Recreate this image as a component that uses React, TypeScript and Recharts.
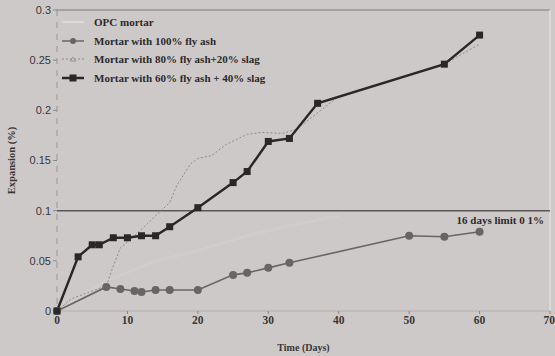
import React from 'react';
import {
  LineChart, Line, XAxis, YAxis, ReferenceLine,
} from 'recharts';

// days / expansion (%)
const ashDays = [0, 7, 9, 11, 12, 14, 16, 20, 25, 27, 30, 33, 50, 55, 60];
const ashVals = [0, 0.024, 0.022, 0.02, 0.019, 0.021, 0.021, 0.021, 0.036, 0.038, 0.043, 0.048, 0.075, 0.074, 0.079];

const slag20Days = [0, 2, 5, 7, 8, 9, 11, 13, 14, 16, 17, 19, 20, 22, 24, 27, 29, 32, 34, 36, 40, 45, 50, 55, 60];
const slag20Vals = [0, 0.012, 0.02, 0.025, 0.045, 0.063, 0.075, 0.088, 0.095, 0.108, 0.125, 0.147, 0.152, 0.155, 0.166, 0.176, 0.178, 0.177, 0.181, 0.192, 0.214, 0.225, 0.235, 0.246, 0.266];

const slag40Days = [0, 3, 5, 6, 8, 10, 12, 14, 16, 20, 25, 27, 30, 33, 37, 55, 60];
const slag40Vals = [0, 0.054, 0.066, 0.066, 0.073, 0.073, 0.075, 0.075, 0.084, 0.103, 0.128, 0.139, 0.169, 0.172, 0.207, 0.246, 0.275];

const opcDays = [0, 7, 14, 20, 27, 33, 40];
const opcVals = [0, 0.03, 0.05, 0.06, 0.075, 0.085, 0.095];

const xTicks = [0, 10, 20, 30, 40, 50, 60, 70];
const yTicks = [0, 0.05, 0.1, 0.15, 0.2, 0.25, 0.3];

const LIMIT = 0.1;
const LIMIT_LABEL = '16 days limit 0 1%';

const SERIES = [
  { name: 'OPC mortar', color: '#e2dfdf', kind: 'plain' },
  { name: 'Mortar with 100% fly ash', color: '#6a6565', kind: 'circle' },
  { name: 'Mortar with 80% fly ash+20% slag', color: '#8e8989', kind: 'dotted' },
  { name: 'Mortar with 60% fly ash + 40% slag', color: '#2b2727', kind: 'square' },
];

const zip = (xs: number[], ys: number[]) => xs.map((x, i) => ({ x, y: ys[i] }));

const SERIF = '"Liberation Serif", "DejaVu Serif", serif';
const SANS = '"Liberation Sans", Arial, sans-serif';

const Square = (props: any) => {
  const { cx, cy } = props;
  if (cx == null || cy == null) return null;
  return <rect x={cx - 3.5} y={cy - 3.5} width={7} height={7} fill="#2b2727" />;
};

const LegendBox = () => (
  <div style={{ position: 'absolute', left: 60, top: 13, fontFamily: SERIF, fontSize: 11, fontWeight: 'bold', color: '#2e2a2a' }}>
    {SERIES.map(s => (
      <div key={s.name} style={{ display: 'flex', alignItems: 'center', height: 18.5 }}>
        <svg width={26} height={10} style={{ marginRight: 8 }}>
          <line x1={2} y1={5} x2={24} y2={5} stroke={s.color}
            strokeWidth={s.kind === 'square' ? 2.5 : s.kind === 'dotted' ? 1 : 1.5}
            strokeDasharray={s.kind === 'dotted' ? '2 2' : undefined} />
          {s.kind === 'circle' && <circle cx={13} cy={5} r={3} fill={s.color} />}
          {s.kind === 'square' && <rect x={9.5} y={1.5} width={7} height={7} fill={s.color} />}
          {s.kind === 'dotted' && <path d="M10 7 L13 3 L16 7 Z" fill="none" stroke={s.color} strokeWidth={0.8} />}
        </svg>
        <span>{s.name}</span>
      </div>
    ))}
  </div>
);

export default function App() {
  return (
    <div style={{ position: 'absolute', left: 0, top: 0, width: 555, height: 356, background: '#cdc9c9' }}>
      <LineChart width={555} height={356} margin={{ top: 10, right: 5, bottom: 15, left: 0 }}>
        <XAxis type="number" dataKey="x" domain={[0, 70]} ticks={xTicks} allowDuplicatedCategory={false}
          axisLine={{ stroke: '#b3afaf' }} tickLine={{ stroke: '#8a8585' }} tickSize={3} height={30}
          tick={{ fontFamily: SERIF, fontSize: 11.5, fontWeight: 'bold', fill: '#3a3636' }}
          label={{ value: 'Time (Days)', position: 'insideBottom', offset: -10, style: { fontFamily: SERIF, fontSize: 10, fontWeight: 'bold', fill: '#3a3636' } }} />
        <YAxis type="number" domain={[0, 0.3]} ticks={yTicks} width={57}
          axisLine={{ stroke: '#9a9595', strokeDasharray: '6 6' }} tickLine={{ stroke: '#8a8585' }} tickSize={4}
          tick={{ fontFamily: SANS, fontSize: 11, fill: '#3a3636' }}
          label={{ value: 'Expansion (%)', angle: -90, position: 'insideLeft', offset: 11, style: { fontFamily: SERIF, fontSize: 10.5, fontWeight: 'bold', fill: '#3a3636', textAnchor: 'middle' } }} />
        <ReferenceLine y={0.3} stroke="#7d7878" strokeWidth={1} />
        <ReferenceLine x={70} stroke="#e0dddd" strokeWidth={1.5} />
        <ReferenceLine y={LIMIT} stroke="#5c5757" strokeWidth={1.5}
          label={{ value: LIMIT_LABEL, position: 'insideTopRight', offset: 6, style: { fontFamily: SERIF, fontSize: 11, fontWeight: 'bold', fill: '#2e2a2a' } }} />
        <Line data={zip(opcDays, opcVals)} dataKey="y" name={SERIES[0].name} stroke={SERIES[0].color}
          strokeWidth={3} strokeOpacity={0.2} dot={false} isAnimationActive={false} />
        <Line data={zip(slag20Days, slag20Vals)} dataKey="y" name={SERIES[2].name} stroke={SERIES[2].color}
          strokeWidth={1} strokeDasharray="2 2" dot={false} isAnimationActive={false} />
        <Line data={zip(ashDays, ashVals)} dataKey="y" name={SERIES[1].name} stroke={SERIES[1].color}
          strokeWidth={1.6} dot={{ r: 3.2, fill: SERIES[1].color, stroke: SERIES[1].color }} isAnimationActive={false} />
        <Line data={zip(slag40Days, slag40Vals)} dataKey="y" name={SERIES[3].name} stroke={SERIES[3].color}
          strokeWidth={2.4} dot={<Square />} isAnimationActive={false} />
      </LineChart>
      <LegendBox />
    </div>
  );
}
